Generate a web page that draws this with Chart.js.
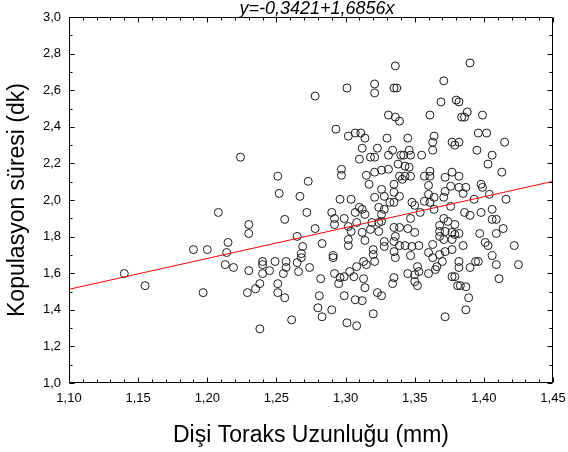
<!DOCTYPE html>
<html>
<head>
<meta charset="utf-8">
<script src="https://cdn.jsdelivr.net/npm/chart.js@4.4.1/dist/chart.umd.min.js"></script>
<style>
  html, body { margin: 0; padding: 0; background: #fff; }
</style>
</head>
<body>
<canvas id="kopulasyonChart" width="568" height="452"></canvas>
<script>
// Dişi toraks uzunluğu (mm) ve kopulasyon süresi (dk), aynı sırayla
const toraksUzunlugu = [
    1.140, 1.155, 1.190, 1.197, 1.200, 1.208, 1.215, 1.214, 1.213, 1.219,
    1.224, 1.278, 1.293, 1.251, 1.273, 1.252, 1.267, 1.297, 1.297, 1.296,
    1.272, 1.256, 1.290, 1.292, 1.292, 1.230, 1.230, 1.278, 1.265, 1.283,
    1.269, 1.268, 1.265, 1.268, 1.291, 1.291, 1.240, 1.240, 1.249, 1.257,
    1.257, 1.245, 1.240, 1.255, 1.274, 1.230, 1.266, 1.292, 1.282, 1.238,
    1.251, 1.235, 1.229, 1.251, 1.256, 1.295, 1.281, 1.280, 1.290, 1.283,
    1.261, 1.238,
    1.336, 1.301, 1.321, 1.321, 1.335, 1.337, 1.331, 1.336, 1.339, 1.302,
    1.307, 1.311, 1.314, 1.312, 1.330, 1.323, 1.334, 1.331, 1.318, 1.321,
    1.310, 1.340, 1.338, 1.315, 1.321, 1.326, 1.331, 1.339, 1.317, 1.326,
    1.335, 1.335, 1.304, 1.321, 1.328,
    1.335, 1.299, 1.307, 1.310, 1.312, 1.314, 1.324, 1.328, 1.326, 1.332,
    1.308, 1.319, 1.324, 1.326, 1.302, 1.304, 1.312, 1.318, 1.324, 1.335,
    1.336, 1.314, 1.302, 1.302, 1.328, 1.328, 1.335, 1.335, 1.336, 1.320,
    1.320, 1.313, 1.315, 1.321, 1.308, 1.303, 1.299, 1.296, 1.306, 1.313,
    1.314, 1.335, 1.334, 1.299, 1.307, 1.312, 1.323, 1.326, 1.320, 1.301,
    1.308,
    1.371, 1.380, 1.382, 1.369, 1.361, 1.384, 1.345, 1.364, 1.363, 1.363,
    1.377, 1.379, 1.382, 1.346, 1.342, 1.347, 1.355, 1.343, 1.346, 1.347,
    1.343, 1.357, 1.361, 1.361, 1.372, 1.377, 1.382, 1.360, 1.376,
    1.341, 1.382, 1.339, 1.360, 1.364, 1.372, 1.371, 1.348, 1.350, 1.357,
    1.361, 1.364, 1.376, 1.354, 1.347, 1.371, 1.374, 1.379, 1.368, 1.339,
    1.345, 1.350, 1.368, 1.372, 1.377, 1.379, 1.368, 1.371, 1.377, 1.339,
    1.343, 1.348, 1.353, 1.363, 1.360, 1.363, 1.372, 1.377, 1.368, 1.347,
    1.370, 1.366, 1.365, 1.352, 1.353, 1.350, 1.345, 1.360, 1.377, 1.350,
    1.352, 1.381, 1.383, 1.372,
    1.390, 1.388, 1.386, 1.399, 1.396, 1.402, 1.415, 1.395, 1.406, 1.403,
    1.413, 1.387, 1.398, 1.399, 1.385, 1.404, 1.393, 1.416,
    1.386, 1.390, 1.398, 1.406, 1.406, 1.409, 1.382, 1.397, 1.409, 1.414,
    1.401, 1.403, 1.385, 1.422, 1.406, 1.382, 1.382, 1.394, 1.396, 1.390,
    1.409, 1.425, 1.379, 1.411, 1.387, 1.389, 1.387
];

const kopulasyonSuresi = [
    1.598, 1.532, 1.729, 1.494, 1.729, 1.932, 1.768, 1.713, 1.647, 1.631,
    2.234, 2.568, 2.387, 2.130, 2.102, 2.036, 2.020, 2.168, 2.135, 2.004,
    1.932, 1.894, 1.932, 1.899, 1.866, 1.866, 1.817, 1.844, 1.801, 1.762,
    1.746, 1.707, 1.658, 1.685, 1.696, 1.685, 1.664, 1.647, 1.664, 1.664,
    1.631, 1.614, 1.598, 1.598, 1.631, 1.614, 1.609, 1.598, 1.570, 1.543,
    1.543, 1.515, 1.494, 1.494, 1.466, 1.543, 1.477, 1.411, 1.400, 1.362,
    1.345, 1.296,
    2.733, 2.612, 2.634, 2.585, 2.612, 2.612, 2.464, 2.453, 2.431, 2.349,
    2.366, 2.366, 2.338, 2.283, 2.338, 2.283, 2.272, 2.245, 2.234, 2.234,
    2.223, 2.245, 2.196, 2.135, 2.152, 2.163, 2.168, 2.130, 2.086, 2.058,
    2.086, 2.042, 2.004, 2.015, 2.020,
    1.987, 1.899, 1.932, 1.960, 1.949, 1.921, 1.960, 1.949, 1.921, 1.987,
    1.877, 1.877, 1.877, 1.883, 1.855, 1.828, 1.823, 1.839, 1.828, 1.850,
    1.801, 1.779, 1.784, 1.751, 1.773, 1.746, 1.773, 1.718, 1.685, 1.729,
    1.702, 1.664, 1.647, 1.664, 1.636, 1.609, 1.581, 1.576, 1.581, 1.570,
    1.521, 1.576, 1.543, 1.477, 1.455, 1.450, 1.494, 1.477, 1.378, 1.329,
    1.313,
    2.651, 2.546, 2.536, 2.536, 2.464, 2.453, 2.338, 2.349, 2.316, 2.272,
    2.316, 2.300, 2.316, 2.272, 2.245, 2.245, 2.245, 2.185, 2.179, 2.130,
    2.130, 2.130, 2.157, 2.130, 2.124, 2.152, 2.130, 2.080, 2.075,
    2.113, 2.069, 2.020, 2.031, 2.015, 2.047, 2.015, 1.987, 1.971, 1.993,
    1.987, 1.949, 1.965, 1.932, 1.899, 1.899, 1.883, 1.866, 1.861, 1.850,
    1.844, 1.823, 1.828, 1.828, 1.823, 1.812, 1.801, 1.784, 1.784, 1.751,
    1.751, 1.746, 1.751, 1.757, 1.713, 1.685, 1.718, 1.729, 1.702, 1.696,
    1.664, 1.636, 1.620, 1.636, 1.609, 1.592, 1.598, 1.598, 1.581, 1.554,
    1.532, 1.532, 1.532, 1.362,
    2.749, 2.481, 2.453, 2.464, 2.366, 2.366, 2.316, 2.272, 2.245, 2.196,
    2.152, 2.069, 2.086, 2.069, 2.036, 2.031, 2.004, 2.004,
    1.932, 1.916, 1.932, 1.949, 1.894, 1.894, 1.817, 1.817, 1.817, 1.844,
    1.768, 1.751, 1.751, 1.751, 1.696, 1.664, 1.631, 1.664, 1.664, 1.631,
    1.647, 1.647, 1.581, 1.570, 1.526, 1.466, 1.400
];

const xTicks = [1.10, 1.15, 1.20, 1.25, 1.30, 1.35, 1.40, 1.45];
const yTicks = [1.0, 1.2, 1.4, 1.6, 1.8, 2.0, 2.2, 2.4, 2.6, 2.8, 3.0];

// regresyon doğrusu: y = kesisim + egim * x
const kesisim = -0.3421;
const egim = 1.6856;

const virgul = (v, d) => v.toFixed(d).replace('.', ',');
const denklem = 'y=' + virgul(kesisim, 4) + '+' + virgul(egim, 4) + 'x';

const noktalar = toraksUzunlugu.map((x, i) => ({ x: x, y: kopulasyonSuresi[i] }));
const xMin = xTicks[0];
const xMax = xTicks[xTicks.length - 1];
const dogru = [
    { x: xMin, y: kesisim + egim * xMin },
    { x: xMax, y: kesisim + egim * xMax }
];

const yazi = 'Arial, "Liberation Sans", sans-serif';

// çerçeve, iç tik çizgileri ve denklem yazısı
const cerceve = {
    id: 'cerceve',
    afterDraw(chart) {
        const { ctx, chartArea: a, scales } = chart;
        const sx = scales.x, sy = scales.y;
        const L = Math.round(a.left) + 0.5, R = Math.round(a.right) - 0.5;
        const T = Math.round(a.top) + 0.5, B = Math.round(a.bottom) - 0.5;
        ctx.save();
        ctx.strokeStyle = '#000';
        ctx.lineWidth = 1;
        ctx.beginPath();
        ctx.rect(L, T, R - L, B - T);

        for (let k = 0; k <= 35; k++) {
            const v = 1.10 + k * 0.01;
            const px = Math.round(sx.getPixelForValue(v)) + 0.5;
            const len = k % 5 === 0 ? 5 : 3;
            ctx.moveTo(px, B); ctx.lineTo(px, B - len);
            ctx.moveTo(px, T); ctx.lineTo(px, T + len);
        }
        for (let k = 0; k <= 20; k++) {
            const v = 1.0 + k * 0.1;
            const py = Math.round(sy.getPixelForValue(v)) + 0.5;
            const len = k % 2 === 0 ? 5 : 3;
            ctx.moveTo(L, py); ctx.lineTo(L + len, py);
            ctx.moveTo(R, py); ctx.lineTo(R - len, py);
        }
        ctx.stroke();

        ctx.fillStyle = '#000';
        ctx.font = 'italic 18px ' + yazi;
        ctx.textAlign = 'center';
        ctx.textBaseline = 'bottom';
        ctx.fillText(denklem, (a.left + a.right) / 2 + 6, a.top + 1);
        ctx.restore();
    }
};

new Chart(document.getElementById('kopulasyonChart'), {
    type: 'scatter',
    data: {
        datasets: [{
            type: 'line',
            data: dogru,
            borderColor: '#ff0000',
            borderWidth: 1,
            pointRadius: 0,
            fill: false
        }, {
            data: noktalar,
            pointStyle: 'circle',
            pointRadius: 4,
            borderWidth: 1,
            borderColor: '#1a1a1a',
            backgroundColor: 'rgba(255,255,255,0)'
        }]
    },
    plugins: [cerceve],
    options: {
        responsive: false,
        animation: false,
        events: [],
        layout: {
            padding: { left: 0, top: 17, right: 15, bottom: 0 }
        },
        plugins: {
            legend: { display: false },
            tooltip: { enabled: false }
        },
        scales: {
            x: {
                type: 'linear',
                min: xMin,
                max: xMax,
                afterBuildTicks: (s) => { s.ticks = xTicks.map(v => ({ value: v })); },
                afterFit: (s) => {
                    s.height = 69;
                    s.paddingLeft = 0;
                    s.paddingRight = 0;
                },
                grid: { display: false, drawTicks: false },
                border: { display: false },
                ticks: {
                    color: '#000',
                    padding: 8,
                    font: { family: yazi, size: 13 },
                    callback: (v) => virgul(v, 2)
                },
                title: {
                    display: true,
                    text: 'Dişi Toraks Uzunluğu (mm)',
                    color: '#000',
                    font: { family: yazi, size: 23 },
                    padding: { top: 0, bottom: 3 }
                }
            },
            y: {
                type: 'linear',
                min: yTicks[0],
                max: yTicks[yTicks.length - 1],
                afterBuildTicks: (s) => { s.ticks = yTicks.map(v => ({ value: v })); },
                afterFit: (s) => {
                    s.width = 69;
                    s.paddingTop = 0;
                    s.paddingBottom = 0;
                },
                grid: { display: false, drawTicks: false },
                border: { display: false },
                ticks: {
                    color: '#000',
                    padding: 8,
                    font: { family: yazi, size: 13 },
                    callback: (v) => virgul(v, 1)
                },
                title: {
                    display: true,
                    text: 'Kopulasyon süresi (dk)',
                    color: '#000',
                    font: { family: yazi, size: 23 },
                    padding: { top: 4, bottom: 0 }
                }
            }
        }
    }
});
</script>
</body>
</html>
